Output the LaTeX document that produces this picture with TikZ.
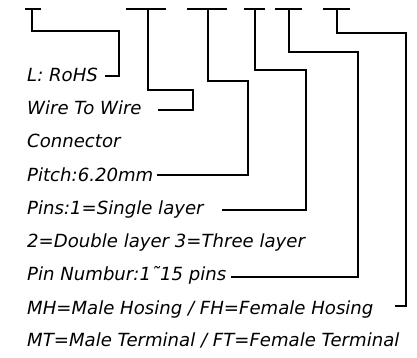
\documentclass[tikz,border=0pt]{standalone}
\usepackage{fontspec}
\setmainfont{DejaVu Sans}
\begin{document}
\begin{tikzpicture}[x=1pt,y=-1pt,
  lbl/.style={anchor=base west,inner sep=0pt,font=\fontsize{18.1}{22}\selectfont\itshape},
  wire/.style={line width=1.3pt,line join=miter}]
\path[use as bounding box] (0,0) rectangle (417,358);
\begin{scope}
\clip (0,0) rectangle (417,358);
% labels
\node[lbl] (t1) at (27,82) {L: RoHS};
\node[lbl] (t2) at (27,115) {Wire To Wire};
\node[lbl] (t3) at (27,148) {Connector};
\node[lbl] (t4) at (27,181) {Pitch:6.20mm};
\node[lbl] (t5) at (27,214) {Pins:1=Single layer};
\node[lbl] (t6) at (27,247) {2=Double layer 3=Three layer};
\node[lbl] (t7) at (27,280) {Pin Numbur:1˜15 pins};
\node[lbl] (t8) at (27,314) {MH=Male Hosing / FH=Female Hosing};
\node[lbl] (t9) at (27,346) {MT=Male Terminal / FT=Female Terminal};
\end{scope}
% bars
\coordinate (a1) at (25,9);  \coordinate (c1) at (41,9);  \coordinate (m1) at (32,9);
\coordinate (a2) at (126,9); \coordinate (c2) at (166,9); \coordinate (m2) at (148,9);
\coordinate (a3) at (187,9); \coordinate (c3) at (227,9); \coordinate (m3) at (208,9);
\coordinate (a4) at (244,9); \coordinate (c4) at (265,9); \coordinate (m4) at (255,9);
\coordinate (a5) at (275,9); \coordinate (c5) at (302,9); \coordinate (m5) at (289,9);
\coordinate (a6) at (323,9); \coordinate (c6) at (350,9); \coordinate (m6) at (337,9);
\foreach \i in {1,...,6} \draw[wire] (a\i) -- (c\i);
% bends
\coordinate (k1) at (119,31);  \coordinate (e1) at (105,76);
\coordinate (k2) at (193,90);  \coordinate (e2) at (158,110);
\coordinate (k3) at (248,81);  \coordinate (e3) at (157,175);
\coordinate (k4) at (306,70);  \coordinate (e4) at (222,210);
\coordinate (k5) at (358,52);  \coordinate (e5) at (231,277);
\coordinate (k6) at (406,33);  \coordinate (e6) at (395,306);
\foreach \i in {1,...,6} \draw[wire] (m\i) |- (k\i) |- (e\i);
\end{tikzpicture}
\end{document}
